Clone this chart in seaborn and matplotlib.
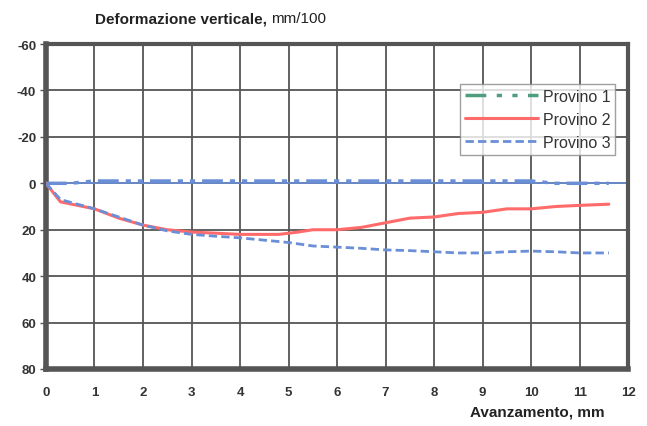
import numpy as np
import pandas as pd
import matplotlib
matplotlib.use('Agg')
import matplotlib.pyplot as plt
import seaborn as sns
from matplotlib.lines import Line2D

# dati (x in mm, y in mm/100)
x_p1 = [0, 0.5, 1, 1.5, 2, 3, 4, 5, 6, 7, 8, 9, 10, 10.5, 11, 11.6]
y_p1 = [0, 0, -1, -1, -1, -1, -1, -1, -1, -1, -1, -1, -1, 0, 0, 0]

x_p2 = [0, 0.3, 1, 1.5, 2, 2.5, 3, 3.5, 4, 4.5, 4.8, 5.2, 5.5, 6, 6.5, 7, 7.5, 8, 8.5, 9, 9.5, 10, 10.5, 11, 11.6]
y_p2 = [0, 8, 11, 15, 18, 20, 21, 21.5, 22, 22, 22, 21, 20, 20, 19, 17, 15, 14.5, 13, 12.5, 11, 11, 10, 9.5, 9]

x_p3 = [0, 0.3, 1, 1.5, 2, 2.5, 3, 3.5, 4, 4.5, 5, 5.5, 6, 6.5, 7, 7.5, 8, 8.5, 9, 9.5, 10, 10.5, 11, 11.6]
y_p3 = [0, 7, 11, 14.5, 18, 20.5, 22, 22.8, 23.5, 24.5, 25.5, 27, 27.5, 28, 28.7, 29, 29.5, 30, 30, 29.5, 29.2, 29.5, 30, 30]

labels = ['Provino 1', 'Provino 2', 'Provino 3']

c_green = '#4e9e7e'
c_red = '#ff6b6b'
c_blue = '#6a8fd6'
c_grid = '#555555'

sns.set_theme(style='white')
plt.rcParams['font.family'] = ['Liberation Sans', 'DejaVu Sans']
plt.rcParams['axes.unicode_minus'] = False

fig = plt.figure(figsize=(6.47, 4.27), dpi=100)
ax = fig.add_axes([0.071, 0.1335, 0.9, 0.761])

df1 = pd.DataFrame({'x': x_p1, 'y': y_p1})
df2 = pd.DataFrame({'x': x_p2, 'y': y_p2})
df3 = pd.DataFrame({'x': x_p3, 'y': y_p3})

ax.axhline(0, color=c_blue, lw=1.2, zorder=2)
sns.lineplot(data=df1, x='x', y='y', ax=ax, color=c_blue, lw=2.5, zorder=3)
ax.lines[-1].set_dashes([6, 2, 1.5, 2, 1.5, 2])
sns.lineplot(data=df2, x='x', y='y', ax=ax, color=c_red, lw=2.2, zorder=4)
sns.lineplot(data=df3, x='x', y='y', ax=ax, color=c_blue, lw=2.0, zorder=5)
ax.lines[-1].set_dashes([3, 1.5])

ax.set_xlim(0, 12)
ax.set_ylim(80, -60)
ax.set_xticks(range(0, 13))
ax.set_yticks(range(-60, 81, 20))
ax.grid(True, color=c_grid, lw=1.3)
ax.set_axisbelow(True)
for s in ax.spines.values():
    s.set_color(c_grid)
    s.set_linewidth(3)
ax.spines['left'].set_linewidth(4)
ax.spines['bottom'].set_linewidth(4)

ax.tick_params(axis='y', left=True, length=4, width=1, color=c_grid,
               labelsize=9.5, labelcolor='#333333', pad=3)
ax.tick_params(axis='x', bottom=False, labelsize=9.5, labelcolor='#333333', pad=6)
for t in ax.get_xticklabels() + ax.get_yticklabels():
    t.set_fontweight('bold')

ax.set_xlabel('')
ax.set_ylabel('')
t1 = fig.text(0.147, 0.955, 'Deformazione verticale,', fontsize=11, fontweight='bold',
              color='#222222', ha='left', va='center')
fig.canvas.draw()
bb = t1.get_window_extent()
fig.text((bb.x1 + 4) / fig.bbox.width, 0.955, 'mm/100', fontsize=11, color='#222222',
         ha='left', va='center')
fig.text(0.726, 0.033, 'Avanzamento, mm', fontsize=11, fontweight='bold',
         color='#222222', ha='left', va='center')

handles = [
    Line2D([], [], color=c_green, lw=2.5, dashes=[6, 3, 1.5, 3, 1.5, 3]),
    Line2D([], [], color=c_red, lw=2.2),
    Line2D([], [], color=c_blue, lw=2.0, dashes=[3, 1.5]),
]
leg = ax.legend(handles, labels, loc='upper right', bbox_to_anchor=(0.978, 0.877),
                fontsize=11.5, frameon=True, fancybox=False, handlelength=4.6,
                borderpad=0.3, labelspacing=0.5, handletextpad=0.3, borderaxespad=0)
leg.get_frame().set_edgecolor('#888888')
leg.get_frame().set_linewidth(1)
for t in leg.get_texts():
    t.set_color('#333333')

fig.savefig('out.png', dpi=100)
